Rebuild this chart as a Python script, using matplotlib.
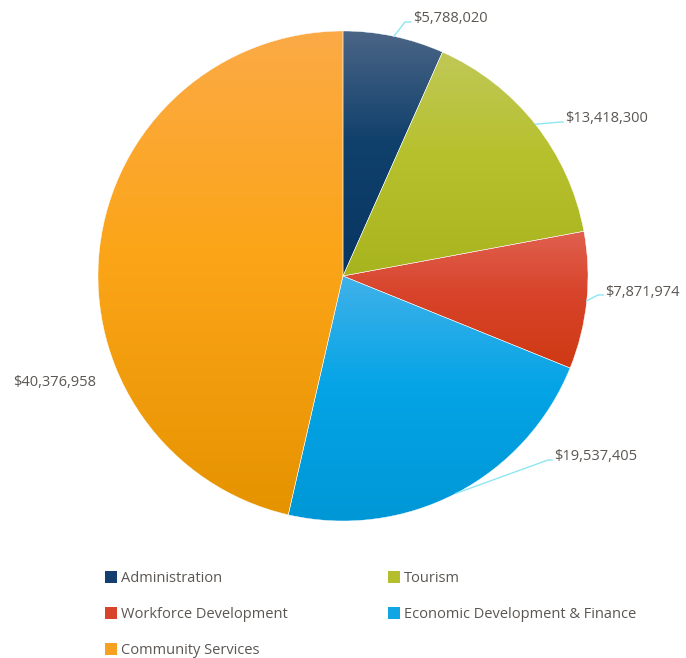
import numpy as np
import matplotlib
matplotlib.use("Agg")
import matplotlib.pyplot as plt
from matplotlib.colors import LinearSegmentedColormap
from matplotlib.patches import Rectangle

plt.rcParams['font.family'] = ['Open Sans', 'DejaVu Sans']

categories = ["Administration", "Tourism", "Workforce Development",
              "Economic Development & Finance", "Community Services"]
values = [5788020, 13418300, 7871974, 19537405, 40376958]
top_colors = ["#4b6586", "#c0c857", "#e0604f", "#40b1e9", "#fbaa46"]
mid_colors = ["#10406c", "#b7c12e", "#d8442b", "#04a4e6", "#fca519"]
bottom_colors = ["#083663", "#a8b41e", "#cf3913", "#0097d6", "#e69300"]
legend_colors = ["#123f6d", "#b5bf2e", "#d8432b", "#12a5e4", "#f8a120"]

# label anchors (figure px), elbow points of the leader lines
label_pos = [(413, 18), (565, 118), (605, 292), (554, 457), (96, 383)]
elbows = [(405, 22), (561, 122), (598, 295), (548, 460), None]

W, H = 686, 658
text_color = "#5b5652"
line_color = "#8fe6f4"

fig = plt.figure(figsize=(W / 100, H / 100), dpi=100)
cx, cy, r = 343, 276, 245
ax = fig.add_axes([(cx - r) / W, (H - cy - r) / H, 2 * r / W, 2 * r / H])
ax.set_xlim(-1, 1)
ax.set_ylim(-1, 1)
ax.axis("off")

wedges, _ = ax.pie(values, startangle=90, counterclock=False, radius=1,
                   wedgeprops=dict(edgecolor="white", linewidth=0.3))

# vertical gradient inside each slice: light top, full colour, darker bottom
grad = np.linspace(0, 1, 256).reshape(-1, 1)
for w, c1, cm, c2 in zip(wedges, top_colors, mid_colors, bottom_colors):
    t = np.radians(np.linspace(w.theta1, w.theta2, 200))
    xs = np.concatenate([[0], np.cos(t)])
    ys = np.concatenate([[0], np.sin(t)])
    cmap = LinearSegmentedColormap.from_list("g", [(0, c2), (0.55, cm), (1, c1)])
    w.set_facecolor("none")
    im = ax.imshow(grad, cmap=cmap, origin="lower", aspect="auto",
                   extent=[xs.min(), xs.max(), ys.min(), ys.max()], zorder=0)
    im.set_clip_path(w)
ax.set_xlim(-1, 1)
ax.set_ylim(-1, 1)


def to_fig(px, py):
    return px / W, 1 - py / H


# value labels with leader lines
for w, v, pos, elb in zip(wedges, values, label_pos, elbows):
    ha = "left" if elb is not None else "right"
    fx, fy = to_fig(*pos)
    fig.text(fx, fy, f"${v:,}", ha=ha, va="center", fontsize=10.5,
             color=text_color)
    if elb is None:
        continue
    mid = np.radians((w.theta1 + w.theta2) / 2)
    sx, sy = cx + r * np.cos(mid), cy - r * np.sin(mid)
    px = [sx, elb[0], pos[0] - 2]
    py = [sy, elb[1], elb[1]]
    fig.add_artist(plt.Line2D([p / W for p in px], [1 - p / H for p in py],
                              color=line_color, linewidth=1.0))

# legend, two columns
col_x = [105, 388]
row_y = [577, 613, 649]
for i, (name, col) in enumerate(zip(categories, legend_colors)):
    x0 = col_x[i % 2]
    y0 = row_y[i // 2]
    fig.add_artist(Rectangle(to_fig(x0, y0 + 6), 12 / W, 12 / H,
                             facecolor=col, edgecolor="none",
                             transform=fig.transFigure))
    fx, fy = to_fig(x0 + 16, y0 + 1)
    fig.text(fx, fy, name, ha="left", va="center", fontsize=10.5,
             color=text_color)

fig.savefig("out.png", dpi=100)
